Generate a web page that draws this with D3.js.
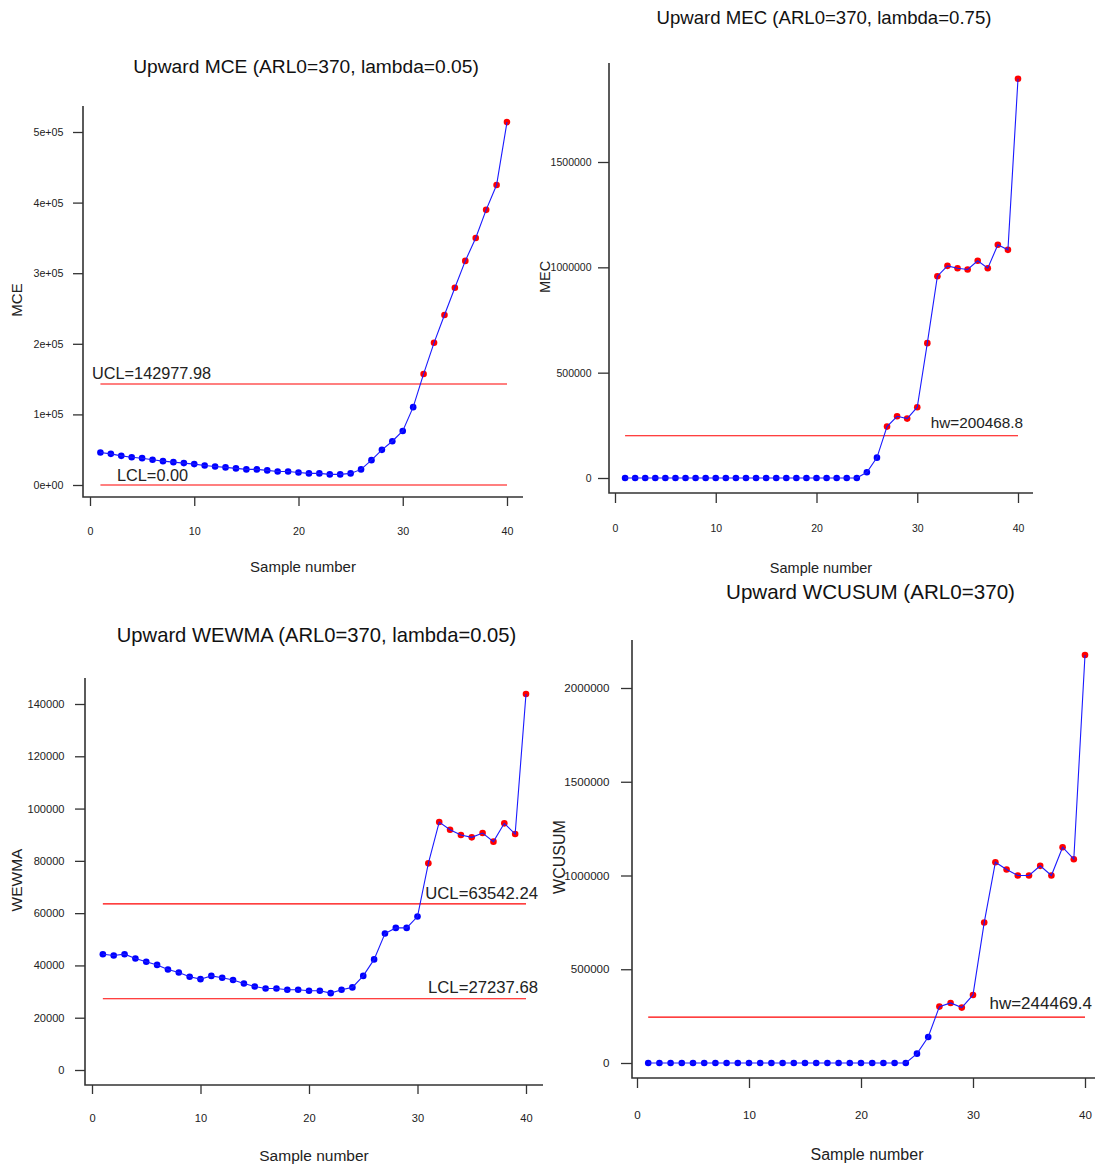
<!DOCTYPE html>
<html>
<head>
<meta charset="utf-8">
<script src="https://cdn.jsdelivr.net/npm/d3@7"></script>
<style>
  html, body { margin: 0; padding: 0; background: #fff; }
  svg { display: block; }
  text { font-family: "Liberation Sans", Arial, sans-serif; }
</style>
</head>
<body>
<svg id="chart" width="1095" height="1167"></svg>
<script>
// ---------- data ----------
const sampleNumbers = d3.range(1, 41);
const xTicks = [0, 10, 20, 30, 40];

const mceValues = [46000, 44100, 41300, 39400, 38000, 35700, 33800, 32400, 31000, 29600,
  27700, 26300, 24900, 23500, 22100, 22100, 20700, 19200, 19200, 17800,
  16400, 16400, 15000, 15000, 16400, 22100, 35200, 49800, 62000, 76500,
  110300, 157300, 201400, 240800, 279300, 317400, 349800, 389700, 424900, 514000];
const mceUCL = 142977.98, mceLCL = 0;
const mceTicks = [0, 100000, 200000, 300000, 400000, 500000];
const mceTickLabels = ["0e+00", "1e+05", "2e+05", "3e+05", "4e+05", "5e+05"];

const mecValues = [0, 0, 0, 0, 0, 0, 0, 0, 0, 0, 0, 0, 0, 0, 0, 0, 0, 0, 0, 0,
  0, 0, 0, 0, 27000, 96700, 244000, 293000, 282000, 336000,
  640000, 958000, 1007000, 996000, 990000, 1031000, 996000, 1107000, 1083000, 1895000];
const mecHW = 200468.8;
const mecTicks = [0, 500000, 1000000, 1500000];
const mecTickLabels = ["0", "500000", "1000000", "1500000"];

const wewmaValues = [44300, 43800, 44300, 42650, 41400, 40200, 38450, 37300, 35650, 34750,
  36000, 35300, 34400, 33100, 31950, 31200, 31200, 30700, 30700, 30300,
  30300, 29400, 30700, 31600, 36000, 42300, 52200, 54350, 54350, 58700,
  79050, 94850, 91900, 89900, 89000, 90650, 87350, 94350, 90250, 143850];
const wewmaUCL = 63542.24, wewmaLCL = 27237.68;
const wewmaTicks = [0, 20000, 40000, 60000, 80000, 100000, 120000, 140000];
const wewmaTickLabels = ["0", "20000", "40000", "60000", "80000", "100000", "120000", "140000"];

const wcusumValues = [0, 0, 0, 0, 0, 0, 0, 0, 0, 0, 0, 0, 0, 0, 0, 0, 0, 0, 0, 0,
  0, 0, 0, 0, 49800, 138800, 300700, 320300, 295400, 363000,
  749000, 1071000, 1032000, 1000000, 1000000, 1051600, 1000000, 1151000, 1087000, 2176000];
const wcusumHW = 244469.4;
const wcusumTicks = [0, 500000, 1000000, 1500000, 2000000];
const wcusumTickLabels = ["0", "500000", "1000000", "1500000", "2000000"];

// ---------- panels (layout only) ----------
const panels = [
  {
    title: "Upward MCE (ARL0=370, lambda=0.05)", titleX: 306, titleY: 73, titleSize: 19.2,
    ylab: "MCE", ylabX: 22, ylabY: 300, labSize: 15,
    xlabX: 303, xlabY: 572,
    axisX: 83, top: 106, axisY: 497, right: 523,
    tickLen: 10, tickPad: 9.5, tickSize: 10.7, limSize: 16.3,
    xRange: [90, 507], yDomain: [0, 500000], yRange: [485, 132],
    values: mceValues, ticks: mceTicks, tickLabels: mceTickLabels,
    limits: [
      { v: mceUCL, label: "UCL=142977.98", x: 92, y: 379, anchor: "start" },
      { v: mceLCL, label: "LCL=0.00", x: 117, y: 481, anchor: "start" }
    ],
    threshold: mceUCL, tickLabelY: 535
  },
  {
    title: "Upward MEC (ARL0=370, lambda=0.75)", titleX: 824, titleY: 24, titleSize: 18.6,
    ylab: "MEC", ylabX: 550, ylabY: 277, labSize: 14.5,
    xlabX: 821, xlabY: 573,
    axisX: 609, top: 63, axisY: 493, right: 1033,
    tickLen: 11, tickPad: 6.5, tickSize: 10.5, limSize: 15.3,
    xRange: [615, 1018], yDomain: [0, 1500000], yRange: [478, 162],
    values: mecValues, ticks: mecTicks, tickLabels: mecTickLabels,
    limits: [
      { v: mecHW, label: "hw=200468.8", x: 1023, y: 428, anchor: "end" }
    ],
    threshold: mecHW, tickLabelY: 532
  },
  {
    title: "Upward WEWMA (ARL0=370, lambda=0.05)", titleX: 316.5, titleY: 642, titleSize: 20.2,
    ylab: "WEWMA", ylabX: 22, ylabY: 880, labSize: 15.5,
    xlabX: 314, xlabY: 1161,
    axisX: 85, top: 678, axisY: 1085, right: 543,
    tickLen: 10, tickPad: 10.5, tickSize: 11.1, limSize: 16.7,
    xRange: [92, 526], yDomain: [0, 140000], yRange: [1070, 704],
    values: wewmaValues, ticks: wewmaTicks, tickLabels: wewmaTickLabels,
    limits: [
      { v: wewmaUCL, label: "UCL=63542.24", x: 538, y: 899, anchor: "end" },
      { v: wewmaLCL, label: "LCL=27237.68", x: 538, y: 993, anchor: "end" }
    ],
    threshold: wewmaUCL, tickLabelY: 1122
  },
  {
    title: "Upward WCUSUM (ARL0=370)", titleX: 870.5, titleY: 599, titleSize: 20.6,
    ylab: "WCUSUM", ylabX: 565, ylabY: 857, labSize: 16,
    xlabX: 867, xlabY: 1160,
    axisX: 632, top: 640, axisY: 1078, right: 1095,
    tickLen: 11, tickPad: 11.5, tickSize: 11.6, limSize: 17,
    xRange: [637, 1085], yDomain: [0, 2000000], yRange: [1063, 688],
    values: wcusumValues, ticks: wcusumTicks, tickLabels: wcusumTickLabels,
    limits: [
      { v: wcusumHW, label: "hw=244469.4", x: 1092, y: 1009, anchor: "end" }
    ],
    threshold: wcusumHW, tickLabelY: 1119
  }
];

const svg = d3.select("#chart");
const axisColor = "#333";

panels.forEach(p => {
  const g = svg.append("g");
  const x = d3.scaleLinear().domain([0, 40]).range(p.xRange);
  const y = d3.scaleLinear().domain(p.yDomain).range(p.yRange);

  // title
  g.append("text").attr("x", p.titleX).attr("y", p.titleY)
    .attr("text-anchor", "middle").attr("font-size", p.titleSize).attr("fill", "#111")
    .text(p.title);

  // y axis ticks
  const yAxis = d3.axisLeft(y).tickValues(p.ticks)
    .tickFormat((d, i) => p.tickLabels[i]).tickSize(p.tickLen).tickPadding(p.tickPad);
  const ya = g.append("g").attr("transform", `translate(${p.axisX},0)`).call(yAxis);
  ya.select(".domain").remove();
  ya.selectAll("line").attr("stroke", axisColor).attr("stroke-width", 1.3);
  ya.selectAll("text").attr("font-size", p.tickSize).attr("fill", "#222")
    .attr("font-family", "'Liberation Sans', Arial, sans-serif");

  // x axis ticks
  const xAxis = d3.axisBottom(x).tickValues(xTicks).tickSize(p.tickLen - 1).tickPadding(0);
  const xa = g.append("g").attr("transform", `translate(0,${p.axisY})`).call(xAxis);
  xa.select(".domain").remove();
  xa.selectAll("line").attr("stroke", axisColor).attr("stroke-width", 1.3);
  xa.selectAll("text").attr("font-size", p.tickSize).attr("fill", "#222")
    .attr("font-family", "'Liberation Sans', Arial, sans-serif")
    .attr("dy", null).attr("y", p.tickLabelY - p.axisY);

  // L-shaped frame
  g.append("path")
    .attr("d", `M${p.axisX},${p.top}V${p.axisY}H${p.right}`)
    .attr("fill", "none").attr("stroke", axisColor).attr("stroke-width", 1.6);

  // axis titles
  g.append("text").attr("x", p.xlabX).attr("y", p.xlabY)
    .attr("text-anchor", "middle").attr("font-size", p.labSize).attr("fill", "#222")
    .text("Sample number");
  g.append("text")
    .attr("transform", `translate(${p.ylabX},${p.ylabY}) rotate(-90)`)
    .attr("text-anchor", "middle").attr("font-size", p.labSize).attr("fill", "#222")
    .text(p.ylab);

  // control limits
  p.limits.forEach(l => {
    g.append("line")
      .attr("x1", x(1)).attr("x2", x(40))
      .attr("y1", y(l.v)).attr("y2", y(l.v))
      .attr("stroke", "#ff0000").attr("stroke-width", 1.1);
    g.append("text").attr("x", l.x).attr("y", l.y)
      .attr("text-anchor", l.anchor).attr("font-size", p.limSize).attr("fill", "#222")
      .text(l.label);
  });

  const pts = sampleNumbers.map((s, i) => ({ s, v: p.values[i] }));

  // points
  g.selectAll("circle.pt").data(pts).enter().append("circle")
    .attr("class", "pt")
    .attr("cx", d => x(d.s)).attr("cy", d => y(d.v)).attr("r", 3.3)
    .attr("fill", d => d.v > p.threshold ? "#ff0000" : "#0000ff");

  // line
  const line = d3.line().x(d => x(d.s)).y(d => y(d.v));
  g.append("path").datum(pts).attr("d", line)
    .attr("fill", "none").attr("stroke", "#1a1aff").attr("stroke-width", 1.1);
});
</script>
</body>
</html>
